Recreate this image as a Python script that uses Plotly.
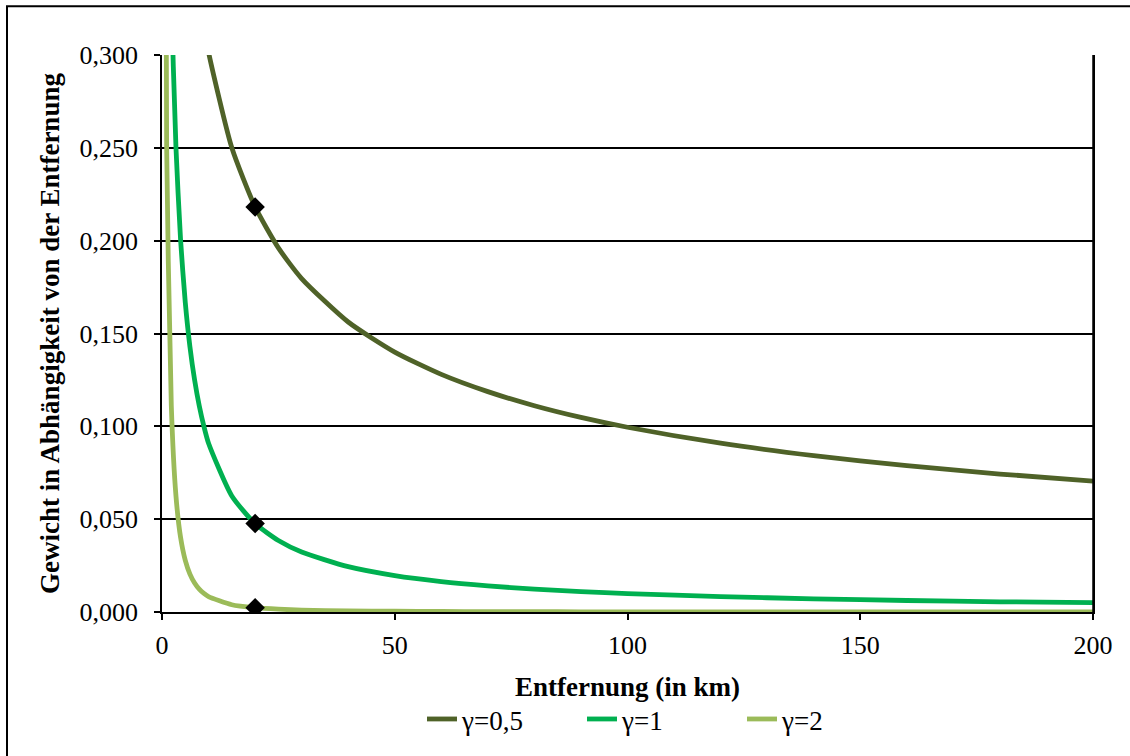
import plotly.graph_objects as go

# distance in km
distance = [0, 1, 2, 3, 4, 5, 6, 7, 8, 9, 10, 15, 20, 25, 30, 40, 50, 60, 70, 80, 90,
            100, 120, 140, 160, 180, 200]

# weights
weight_g05 = [1.0, 0.7071, 0.5774, 0.5, 0.4472, 0.4082, 0.378, 0.3536, 0.3333, 0.3162, 0.3015,
              0.25, 0.2182, 0.1961, 0.1796, 0.1562, 0.14, 0.128, 0.1187, 0.1111, 0.1048,
              0.0995, 0.0909, 0.0842, 0.0788, 0.0743, 0.0705]
weight_g1 = [1.0, 0.5, 0.3333, 0.25, 0.2, 0.1667, 0.1429, 0.125, 0.1111, 0.1, 0.0909,
             0.0625, 0.0476, 0.0385, 0.0323, 0.0244, 0.0196, 0.0164, 0.0141, 0.0123, 0.011,
             0.0099, 0.0083, 0.0071, 0.0062, 0.0055, 0.005]
weight_g2 = [1.0, 0.25, 0.1111, 0.0625, 0.04, 0.0278, 0.0204, 0.0156, 0.0123, 0.01, 0.0083,
             0.0039, 0.0023, 0.0015, 0.001, 0.0006, 0.0004, 0.0003, 0.0002, 0.0002, 0.0001,
             0.0001, 0.0001, 0.0001, 0.0, 0.0, 0.0]

series_names = ["γ=0,5", "γ=1", "γ=2"]
series_colors = ["#4F6228", "#00B050", "#9BBB59"]

# highlighted points at 20 km
marker_x = [20, 20, 20]
marker_y = [0.2182, 0.0476, 0.0023]

y_ticks = [0, 0.05, 0.1, 0.15, 0.2, 0.25, 0.3]
x_ticks = [0, 50, 100, 150, 200]

FONT = "Liberation Serif, Times New Roman, serif"

fig = go.Figure()
for name, ys, col in zip(series_names, [weight_g05, weight_g1, weight_g2], series_colors):
    fig.add_trace(go.Scatter(
        x=distance, y=ys, mode="lines", name=name,
        line=dict(color=col, width=4.8, shape="spline", smoothing=0.6),
    ))

fig.add_trace(go.Scatter(
    x=marker_x, y=marker_y, mode="markers", showlegend=False,
    marker=dict(symbol="diamond", size=15, color="black"),
))

# plot-area size in px
L, R, T, B = 162, 37, 55, 141
W, H = 1130, 756
pw, ph = W - L - R, H - T - B

def px_to_paper_x(px):
    return (px - L) / pw

def px_to_paper_y(py):
    return (H - B - py) / ph

fig.update_layout(
    width=W, height=H,
    margin=dict(l=L, r=R, t=T, b=B),
    paper_bgcolor="white", plot_bgcolor="white",
    font=dict(family=FONT, size=26, color="black"),
    separators=",.",
    showlegend=True,
    legend=dict(
        orientation="h", x=px_to_paper_x(662), xanchor="center",
        y=px_to_paper_y(723), yanchor="middle",
        font=dict(size=27), entrywidth=115, bgcolor="rgba(0,0,0,0)",
    ),
    xaxis=dict(
        range=[0, 200], tickvals=x_ticks, ticks="outside", ticklen=6, tickwidth=1.5,
        tickcolor="black", showline=True, linecolor="black", linewidth=1.5,
        showgrid=False, zeroline=False, ticklabelstandoff=3,
        title=dict(text="<b>Entfernung (in km)</b>", font=dict(size=27), standoff=18),
        tickfont=dict(size=26),
    ),
    yaxis=dict(
        range=[0, 0.3], tickvals=y_ticks, tickformat=".3f", ticks="outside", ticklen=6,
        tickwidth=1.5, tickcolor="black", showline=True, linecolor="black", linewidth=1.5,
        mirror=True, showgrid=True, gridcolor="black", gridwidth=1.5, zeroline=False,
        ticklabelstandoff=11,
        title=dict(text="<b>Gewicht in Abhängigkeit von der Entfernung</b>",
                   font=dict(size=27), standoff=12),
        tickfont=dict(size=26),
    ),
    shapes=[
        dict(type="rect", xref="paper", yref="paper",
             x0=px_to_paper_x(7), x1=px_to_paper_x(1140),
             y0=px_to_paper_y(770), y1=px_to_paper_y(6),
             line=dict(color="black", width=2), layer="below"),
        dict(type="line", xref="x", yref="paper", x0=200, x1=200,
             y0=px_to_paper_y(621), y1=1, line=dict(color="black", width=1.5)),
    ],
)

fig.write_html("out.html", config={"displayModeBar": False},
               post_script="document.body.style.margin='0';")
